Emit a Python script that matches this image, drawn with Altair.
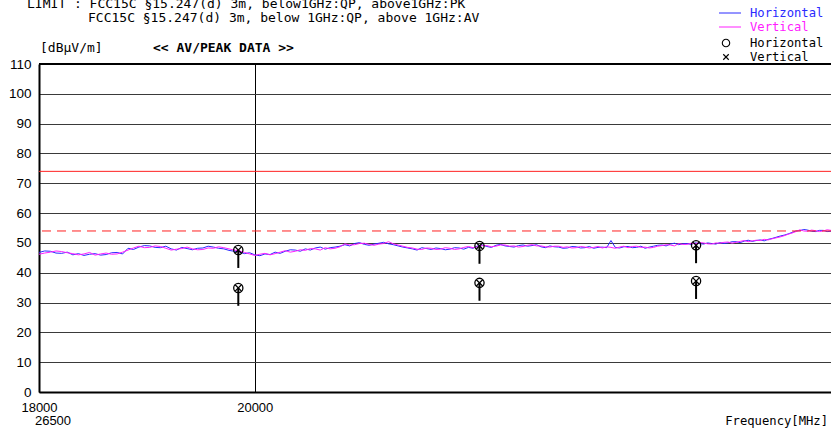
import altair as alt
import pandas as pd

# ---- data -------------------------------------------------------------
freq_mhz = [
    18000, 18050, 18100, 18150, 18200, 18250, 18300, 18350, 18400, 18450,
    18500, 18550, 18600, 18650, 18700, 18750, 18800, 18850, 18900, 18950,
    19000, 19050, 19100, 19150, 19200, 19250, 19300, 19350, 19400, 19450,
    19500, 19550, 19600, 19650, 19700, 19750, 19800, 19850, 19900, 19950,
    20000, 20050, 20100, 20150, 20200, 20250, 20300, 20350, 20400, 20450,
    20500, 20550, 20600, 20650, 20700, 20750, 20800, 20850, 20900, 20950,
    21000, 21050, 21100, 21150, 21200, 21250, 21300, 21350, 21400, 21450,
    21500, 21550, 21600, 21650, 21700, 21750, 21800, 21850, 21900, 21950,
    22000, 22050, 22100, 22150, 22200, 22250, 22300, 22350, 22400, 22450,
    22500, 22550, 22600, 22650, 22700, 22750, 22800, 22850, 22900, 22950,
    23000, 23050, 23100, 23150, 23200, 23250, 23300, 23350, 23400, 23450,
    23500, 23550, 23600, 23650, 23700, 23750, 23800, 23850, 23900, 23950,
    24000, 24050, 24100, 24150, 24200, 24250, 24300, 24350, 24400, 24450,
    24500, 24550, 24600, 24650, 24700, 24750, 24800, 24850, 24900, 24950,
    25000, 25050, 25100, 25150, 25200, 25250, 25300, 25350, 25400, 25450,
    25500, 25550, 25600, 25650, 25700, 25750, 25800, 25850, 25900, 25950,
    26000, 26050, 26100, 26150, 26200, 26250, 26300, 26350, 26400, 26450,
    26500]

horizontal = [
    46.8, 47.3, 47.2, 46.6, 46.5, 46.9, 46.0, 46.4, 45.8, 46.2,
    46.4, 45.9, 46.1, 46.7, 46.8, 46.3, 48.2, 47.8, 48.6, 49.1,
    49.0, 48.5, 48.4, 48.9, 48.0, 47.6, 48.5, 48.1, 47.7, 48.2,
    48.3, 48.9, 48.6, 48.2, 48.0, 47.5, 47.2, 47.0, 46.4, 46.7,
    46.0, 45.7, 46.3, 46.1, 46.9, 46.5, 47.2, 47.7, 47.6, 47.2,
    48.0, 47.6, 48.3, 48.6, 47.9, 48.4, 48.6, 48.9, 49.4, 49.0,
    49.8, 50.1, 49.5, 49.2, 49.6, 49.9, 50.2, 49.7, 49.4, 49.0,
    48.6, 48.3, 48.0, 47.6, 48.4, 48.1, 47.8, 48.3, 48.1, 47.7,
    47.9, 48.4, 48.3, 47.9, 48.5, 48.2, 49.0, 49.3, 48.8, 48.5,
    49.2, 49.5, 49.0, 48.8, 48.6, 49.1, 49.3, 48.9, 49.1, 49.4,
    48.7, 48.4, 49.0, 48.7, 48.6, 48.2, 48.3, 48.8, 48.7, 48.3,
    48.4, 48.8, 48.2, 48.5, 48.6, 48.4, 50.8, 48.5, 48.3, 48.7,
    48.8, 48.4, 48.5, 48.9, 48.2, 48.6, 48.9, 49.2, 49.3, 49.0,
    49.6, 49.9, 49.4, 49.7, 49.8, 49.5, 50.0, 49.8, 49.6, 50.0,
    49.8, 49.6, 50.1, 49.8, 50.0, 50.4, 50.4, 50.1, 50.6, 50.9,
    50.5, 50.8, 51.0, 50.7, 51.2, 51.5, 51.9, 52.3, 52.6, 53.0,
    53.5, 54.0, 54.1, 54.5, 54.3, 53.9, 53.8, 54.2, 54.2, 53.8,
    53.9]

vertical = [
    46.2, 46.6, 46.9, 47.3, 47.1, 46.7, 46.4, 46.0, 46.3, 46.8,
    45.9, 46.3, 46.6, 46.2, 46.3, 46.9, 47.6, 48.3, 48.9, 48.4,
    48.5, 49.0, 48.8, 48.2, 47.6, 47.9, 48.1, 48.6, 48.0, 47.7,
    47.8, 48.3, 48.2, 48.7, 48.4, 48.0, 47.6, 47.3, 46.8, 46.3,
    45.8, 46.2, 46.5, 46.0, 46.4, 46.9, 47.4, 46.9, 47.2, 47.7,
    47.5, 48.1, 48.0, 47.6, 48.4, 48.0, 48.2, 48.7, 49.7, 49.3,
    49.4, 49.8, 49.9, 49.5, 49.2, 49.6, 49.8, 50.4, 49.7, 49.3,
    48.9, 48.5, 48.3, 47.9, 47.8, 48.3, 48.2, 47.8, 47.9, 48.4,
    48.2, 47.8, 48.0, 48.5, 48.8, 48.4, 48.7, 49.1, 49.1, 48.7,
    48.9, 49.3, 49.3, 48.9, 49.0, 48.6, 48.8, 49.2, 49.4, 49.0,
    49.0, 48.7, 48.6, 48.9, 48.9, 48.5, 48.7, 48.3, 48.4, 48.8,
    48.6, 48.3, 48.5, 48.8, 48.3, 48.7, 48.5, 48.2, 48.6, 48.9,
    48.4, 48.8, 48.9, 48.5, 48.6, 48.3, 48.5, 48.9, 49.1, 49.4,
    49.3, 49.0, 49.8, 49.5, 49.5, 49.9, 49.7, 50.1, 50.0, 49.7,
    49.6, 50.0, 49.9, 50.2, 50.3, 49.9, 50.2, 50.5, 50.8, 50.4,
    50.7, 50.9, 50.8, 51.2, 51.0, 51.4, 51.7, 52.0, 52.4, 52.9,
    53.3, 53.8, 54.4, 54.0, 53.9, 54.3, 54.1, 53.8, 54.0, 54.4,
    54.2]

marker_freq = [19840, 22320, 24810, 19840, 22320, 24810]
marker_level = [47.6, 49.0, 49.2, 34.9, 36.6, 37.2]
stick_drop = 6.0

limit_pk = 74
limit_av = 54

x_ticks = [18000, 20000]
y_ticks = [0, 10, 20, 30, 40, 50, 60, 70, 80, 90, 100, 110]

# ---- frames -----------------------------------------------------------
trace_df = pd.DataFrame({
    "freq": freq_mhz * 2,
    "level": horizontal + vertical,
    "series": ["Horizontal"] * len(freq_mhz) + ["Vertical"] * len(freq_mhz),
})
marker_df = pd.DataFrame({"freq": marker_freq, "level": marker_level})
marker_df["low"] = marker_df["level"] - stick_drop
limit_df = pd.DataFrame({"level": [limit_pk, limit_av], "kind": ["PK", "AV"]})
one = pd.DataFrame({"d": [0]})

MONO = "DejaVu Sans Mono"
SANS = "Liberation Sans"
BLUE = "#2a2aff"
MAGENTA = "#ff20ff"
RED = "#ff2020"

xscale = alt.Scale(type="log", domain=[18000, 26500], nice=False)
yscale = alt.Scale(domain=[0, 110], nice=False)

x_axis = alt.Axis(values=x_ticks, title=None, format="d", grid=True,
                  gridColor="black", gridWidth=1, tickSize=0,
                  labelPadding=9, labelFont=SANS, labelFontSize=13,
                  labelColor="black", domainColor="black", domainWidth=2,
                  labelFlush=False, labelOverlap=False)
y_axis = alt.Axis(values=y_ticks, title=None, grid=True,
                  gridColor="#3a3a3a", gridWidth=1, tickSize=0,
                  labelPadding=8, labelFont=SANS, labelFontSize=13.5,
                  labelColor="black", domainColor="black", domainWidth=2,
                  labelFlush=False, labelOverlap=False)


def X(field="freq"):
    return alt.X(f"{field}:Q", scale=xscale, axis=x_axis)


def Y(field="level"):
    return alt.Y(f"{field}:Q", scale=yscale, axis=y_axis)


traces = alt.Chart(trace_df).mark_line(strokeWidth=1).encode(
    x=X(), y=Y(),
    color=alt.Color("series:N", legend=None,
                    scale=alt.Scale(domain=["Horizontal", "Vertical"],
                                    range=[BLUE, MAGENTA])),
    order=alt.Order("series:N"),
)

top_rule = alt.Chart(one).mark_rule(color="black", strokeWidth=2).encode(
    y=alt.datum(110, scale=yscale, axis=y_axis))

limit_pk_rule = alt.Chart(limit_df[limit_df.kind == "PK"]).mark_rule(
    color=RED, strokeWidth=1).encode(y=Y())
limit_av_rule = alt.Chart(limit_df[limit_df.kind == "AV"]).mark_rule(
    color=RED, strokeWidth=1, strokeDash=[9, 6]).encode(y=Y())

sticks = alt.Chart(marker_df).mark_rule(color="black", strokeWidth=2).encode(
    x=X(), y=Y("low"), y2="level:Q")
circles = alt.Chart(marker_df).mark_point(
    shape="circle", filled=False, color="black", size=85, strokeWidth=1.3,
    opacity=1).encode(x=X(), y=Y())
crosses = alt.Chart(marker_df).mark_point(
    shape="M-1,-1L1,1M-1,1L1,-1", filled=False, color="black", size=40,
    strokeWidth=1.3, opacity=1).encode(x=X(), y=Y())


def txt(text, x, y, color="black", size=13, font=MONO, align="left",
        weight="normal", baseline="middle"):
    return alt.Chart(one).mark_text(
        text=text, color=color, fontSize=size, font=font, align=align,
        fontWeight=weight, baseline=baseline).encode(
        x=alt.value(x), y=alt.value(y))


texts = [
    txt("LIMIT : FCC15C §15.247(d) 3m, below1GHz:QP, above1GHz:PK", -12, -56,
        baseline="alphabetic"),
    txt("FCC15C §15.247(d) 3m, below 1GHz:QP, above 1GHz:AV", 49, -42,
        baseline="alphabetic"),
    txt("[dBμV/m]", 1, -16),
    txt("<< AV/PEAK DATA >>", 114, -16, weight="bold"),
    txt("26500", 14, 357, font=SANS, align="center"),
    txt("Frequency[MHz]", 789, 357, size=12.2, align="right"),
    txt("Horizontal", 711, -51, color=BLUE, size=12.2),
    txt("Vertical", 711, -37, color=MAGENTA, size=12.2),
    txt("Horizontal", 711, -21, size=12.2),
    txt("Vertical", 711, -7, size=12.2),
]

leg_h = alt.Chart(one).mark_rule(color=BLUE, strokeWidth=1).encode(
    x=alt.value(680), x2=alt.value(702), y=alt.value(-51))
leg_v = alt.Chart(one).mark_rule(color=MAGENTA, strokeWidth=1).encode(
    x=alt.value(680), x2=alt.value(702), y=alt.value(-37))
leg_o = alt.Chart(one).mark_point(shape="circle", filled=False, color="black",
                                  size=55, strokeWidth=1.1, opacity=1).encode(
    x=alt.value(687), y=alt.value(-21))
leg_x = alt.Chart(one).mark_point(shape="M-1,-1L1,1M-1,1L1,-1", filled=False,
                                  color="black", size=30, strokeWidth=1.1,
                                  opacity=1).encode(
    x=alt.value(687), y=alt.value(-7))

chart = alt.layer(
    traces, top_rule, limit_pk_rule, limit_av_rule, sticks, circles, crosses,
    leg_h, leg_v, leg_o, leg_x, *texts,
).properties(
    width=792, height=328,
    autosize=alt.AutoSizeParams(type="none"),
    padding={"left": 39, "top": 64, "right": 0, "bottom": 40},
).configure_view(stroke=None).configure(background="white")

chart.save("out.html", embed_options={"renderer": "svg", "actions": False})
